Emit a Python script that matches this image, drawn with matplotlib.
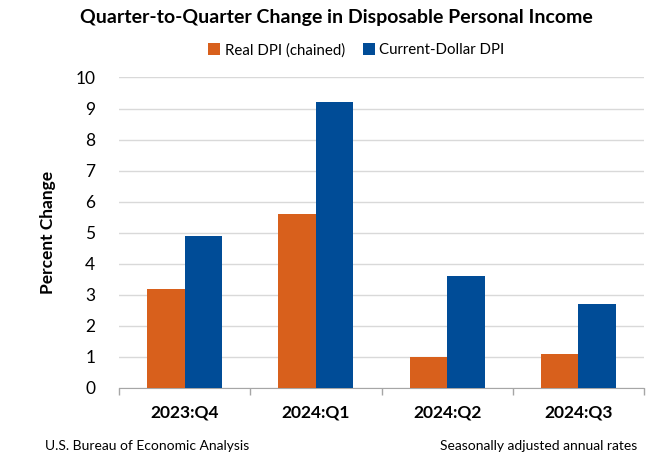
import matplotlib

matplotlib.use("Agg")

import matplotlib.pyplot as plt
import numpy as np

categories = ["2023:Q4", "2024:Q1", "2024:Q2", "2024:Q3"]
real_dpi = [3.2, 5.6, 1.0, 1.1]
current_dpi = [4.9, 9.2, 3.6, 2.7]
series_labels = ["Real DPI (chained)", "Current-Dollar DPI"]
yticks = list(range(0, 11))

plt.rcParams["font.family"] = ["Lato", "DejaVu Sans"]

ORANGE = "#D8601C"
BLUE = "#004C97"

fig = plt.figure(figsize=(6.6, 4.68), dpi=100)
ax = fig.add_axes([0.1803, 0.171, 0.7955, 0.6635])

x = np.arange(len(categories))
w = 0.286
ax.bar(x - w / 2, real_dpi, w, color=ORANGE, label=series_labels[0], zorder=3)
ax.bar(x + w / 2, current_dpi, w, color=BLUE, label=series_labels[1], zorder=3)

ax.set_xlim(-0.5, len(categories) - 0.5)
ax.set_ylim(0, 10)
ax.set_yticks(yticks)
ax.set_yticklabels([str(t) for t in yticks], fontsize=12.5)
ax.grid(axis="y", color="#D9D9D9", lw=1.0, zorder=0)
ax.tick_params(axis="y", length=0, pad=17)

ax.set_xticks(x)
ax.set_xticklabels(categories, fontsize=12.5, fontweight="bold")
ax.set_xticks(np.arange(-0.5, len(categories)), minor=True)
ax.tick_params(axis="x", which="major", length=0, pad=12)
ax.tick_params(axis="x", which="minor", length=5, color="#A6A6A6", width=1)

for side in ["top", "right", "left"]:
    ax.spines[side].set_visible(False)
ax.spines["bottom"].set_color("#A6A6A6")

ax.set_ylabel("Percent Change", fontsize=12.5, fontweight="bold", labelpad=14)

fig.text(0.51, 0.962, "Quarter-to-Quarter Change in Disposable Personal Income",
         ha="center", va="center", fontsize=14, fontweight="bold")
ax.legend(loc="center", bbox_to_anchor=(0.54, 0.893), bbox_transform=fig.transFigure,
          ncol=2, frameon=False, fontsize=10.8, handlelength=0.8, handleheight=0.8,
          handletextpad=0.3, columnspacing=1.2)

fig.text(0.068, 0.047, "U.S. Bureau of Economic Analysis", ha="left", va="center", fontsize=10)
fig.text(0.965, 0.047, "Seasonally adjusted annual rates", ha="right", va="center", fontsize=10)

fig.savefig("out.png", dpi=100)
